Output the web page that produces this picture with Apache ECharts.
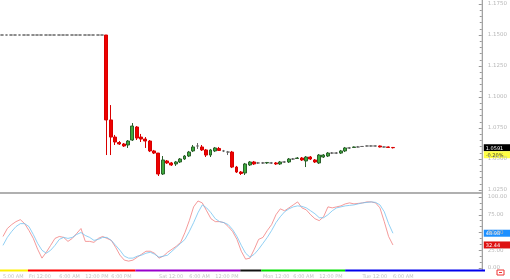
<!DOCTYPE html>
<html><head><meta charset="utf-8">
<script src="https://cdn.jsdelivr.net/npm/echarts@6/dist/echarts.min.js"></script>
<style>html,body{margin:0;padding:0;background:#fff}#c{width:510px;height:279px}</style>
</head><body><div id="c"></div>
<script>
// ---- data ----
const slotCount = 111;
const tickIndex = [0, 6, 13, 19, 25, 36, 43, 49, 60, 67, 73, 83, 90];
const tickText = ['5:00 AM', 'Fri 12:00', '6:00 AM', '12:00 PM', '6:00 PM', 'Sat 12:00', '6:00 AM', '12:00 PM', 'Mon 12:00', '6:00 AM', '12:00 PM', 'Tue 12:00', '6:00 AM'];
const categories = Array.from({length: slotCount}, (_, i) => 'P' + i);

// open, close, low, high
const opens  = [1.15,1.15,1.15,1.15,1.15,1.15,1.15,1.15,1.15,1.15,1.15,1.15,1.15,1.15,1.15,1.15,1.15,1.15,1.15,1.15,1.15,1.15,1.15,1.15,
 1.1500,1.0815,1.0677,1.0633,1.0621,1.0613,1.0653,1.0758,1.0677,1.0661,1.0645,1.0565,1.0548,1.0379,1.0484,1.0468,1.0460,1.0476,1.0500,1.0524,1.0565,
 1.0605,1.0597,1.0573,1.0532,1.0565,1.0585,1.0565,1.0556,1.0556,1.0435,1.0395,1.0387,1.0452,1.0476,1.0468,1.0468,1.0468,1.0468,1.0468,1.0460,1.0476,
 1.0476,1.0500,1.0504,1.0508,1.0484,1.0516,1.0492,1.0468,1.0516,1.0524,1.0548,1.0548,1.0548,1.0565,1.0589,1.0593,1.0597,1.0601,1.0605,1.0605,1.0605,
 1.0605,1.0597,1.0597,1.0593];
const closes = [1.15,1.15,1.15,1.15,1.15,1.15,1.15,1.15,1.15,1.15,1.15,1.15,1.15,1.15,1.15,1.15,1.15,1.15,1.15,1.15,1.15,1.15,1.15,1.15,
 1.0815,1.0677,1.0637,1.0621,1.0605,1.0645,1.0766,1.0669,1.0661,1.0645,1.0565,1.0548,1.0379,1.0492,1.0468,1.0452,1.0476,1.0500,1.0524,1.0556,1.0597,
 1.0605,1.0573,1.0532,1.0573,1.0589,1.0569,1.0565,1.0556,1.0435,1.0395,1.0383,1.0460,1.0476,1.0460,1.0468,1.0468,1.0472,1.0468,1.0460,1.0476,1.0476,
 1.0500,1.0500,1.0508,1.0492,1.0516,1.0500,1.0476,1.0532,1.0532,1.0548,1.0548,1.0548,1.0565,1.0589,1.0589,1.0597,1.0597,1.0601,1.0605,1.0605,1.0605,
 1.0597,1.0597,1.0593,1.0591];
const lows   = [1.15,1.15,1.15,1.15,1.15,1.15,1.15,1.15,1.15,1.15,1.15,1.15,1.15,1.15,1.15,1.15,1.15,1.15,1.15,1.15,1.15,1.15,1.15,1.15,
 1.0532,1.0532,1.0613,1.0613,1.0597,1.0589,1.0645,1.0653,1.0637,1.0589,1.0556,1.0540,1.0363,1.0371,1.0460,1.0444,1.0444,1.0468,1.0492,1.0516,1.0556,
 1.0581,1.0565,1.0516,1.0516,1.0556,1.0565,1.0556,1.0532,1.0427,1.0387,1.0371,1.0371,1.0444,1.0452,1.0460,1.0460,1.0460,1.0460,1.0452,1.0452,1.0468,
 1.0468,1.0492,1.0500,1.0484,1.0435,1.0492,1.0468,1.0460,1.0508,1.0516,1.0540,1.0540,1.0540,1.0556,1.0581,1.0589,1.0593,1.0597,1.0601,1.0601,1.0601,
 1.0593,1.0593,1.0589,1.0585];
const highs  = [1.15,1.15,1.15,1.15,1.15,1.15,1.15,1.15,1.15,1.15,1.15,1.15,1.15,1.15,1.15,1.15,1.15,1.15,1.15,1.15,1.15,1.15,1.15,1.15,
 1.1500,1.0935,1.0694,1.0645,1.0629,1.0653,1.0790,1.0766,1.0702,1.0677,1.0653,1.0573,1.0548,1.0524,1.0492,1.0476,1.0484,1.0508,1.0532,1.0565,1.0613,
 1.0629,1.0613,1.0581,1.0581,1.0597,1.0597,1.0573,1.0565,1.0565,1.0444,1.0403,1.0468,1.0484,1.0484,1.0476,1.0476,1.0476,1.0476,1.0476,1.0484,1.0484,
 1.0508,1.0508,1.0516,1.0516,1.0524,1.0524,1.0500,1.0540,1.0540,1.0556,1.0556,1.0556,1.0573,1.0597,1.0597,1.0601,1.0605,1.0605,1.0609,1.0609,1.0609,
 1.0609,1.0601,1.0601,1.0597];

// stochastic %K and %D
const stochK = [44.4,55.6,61.1,65.3,68.1,62.5,52.8,41.7,26.4,13.9,22.2,31.9,41.7,44.4,43.1,37.5,41.7,48.6,55.6,37.5,37.5,36.1,41.7,44.4,41.7,38.9,
 29.2,18.1,11.1,9.7,11.1,15.3,19.4,23.6,23.6,20.8,13.9,16.7,22.2,26.4,30.6,36.1,50.0,66.7,86.1,94.4,91.7,80.6,69.4,65.3,65.3,63.9,58.3,51.4,40.3,
 23.6,12.5,13.9,26.4,40.3,43.1,52.8,61.1,75.0,83.3,80.6,84.7,88.9,93.1,84.7,81.9,75.0,69.4,66.7,72.2,86.1,84.7,86.1,87.5,90.3,91.7,90.3,91.0,91.7,
 93.1,93.1,91.7,84.7,65.3,44.4,32.44];
const stochD = [31.9,43.1,51.4,58.3,62.5,62.5,58.3,47.2,34.7,25.0,20.8,25.0,31.9,40.3,43.1,41.7,43.1,47.2,50.0,45.8,43.1,38.9,40.3,43.1,43.1,38.9,
 31.9,25.0,16.7,13.9,13.9,16.7,18.1,20.8,22.2,19.4,15.3,16.7,18.1,23.6,29.2,34.7,40.3,51.4,63.9,77.8,88.9,84.7,77.8,69.4,65.3,63.9,61.1,54.2,44.4,
 31.9,20.8,15.3,19.4,26.4,34.7,43.1,52.8,63.9,72.2,79.2,83.3,86.1,87.5,86.8,84.7,80.6,76.4,70.8,70.8,75.0,80.6,84.7,86.1,87.5,88.2,88.9,90.3,91.7,
 92.4,93.1,92.4,88.9,79.2,62.5,48.98];
const changeText = '-0.20%';

// session colour bar: start slot, end slot, colour
const sessionStart = [0, 6.4, 31, 55, 59.8, 79];
const sessionEnd   = [6.4, 31, 55, 59.8, 79, 111];
const sessionColor = ['#ffee00', '#ff0000', '#9900cc', '#111111', '#00dd00', '#0000ee'];

// ---- chart ----
const ohlc = opens.map((o, i) => [o, closes[i], lows[i], highs[i]]);
const chart = echarts.init(document.getElementById('c'), null, {renderer: 'canvas'});
const FONT = 'DejaVu Sans';
const labelSet = new Set(tickIndex);

chart.setOption({
  animation: false,
  backgroundColor: '#fff',
  grid: [
    {left: 0, top: 4, width: 485, height: 186},
    {left: 0, top: 197, width: 485, height: 72}
  ],
  xAxis: [
    {type: 'category', gridIndex: 0, data: categories, boundaryGap: true,
     axisLine: {show: false}, axisTick: {show: false}, axisLabel: {show: false}, splitLine: {show: false}},
    {type: 'category', gridIndex: 1, data: categories, boundaryGap: true,
     axisLine: {show: false}, axisTick: {show: false}, splitLine: {show: false},
     axisLabel: {show: true, interval: (i) => labelSet.has(i), margin: 6, fontSize: 5, color: '#c4c4c4', fontFamily: FONT, align: 'left',
       formatter: (v, i) => tickText[tickIndex.indexOf(i)] || ''}}
  ],
  yAxis: [
    {type: 'value', gridIndex: 0, position: 'right', min: 1.025, max: 1.175, interval: 0.025,
     axisLine: {show: false}, splitLine: {show: false},
     axisTick: {show: true, inside: true, length: 3, lineStyle: {color: '#999'}},
     minorTick: {show: true, splitNumber: 5, length: 2, lineStyle: {color: '#999'}},
     axisLabel: {formatter: (v) => v.toFixed(4), fontSize: 5.5, color: '#b8b8b8', margin: 6, fontFamily: FONT}},
    {type: 'value', gridIndex: 1, position: 'right', min: 0, max: 100, interval: 25,
     axisLine: {show: false}, splitLine: {show: false},
     axisTick: {show: true, inside: true, length: 3, lineStyle: {color: '#999'}},
     minorTick: {show: true, splitNumber: 3, length: 2, lineStyle: {color: '#999'}},
     axisLabel: {formatter: (v) => v.toFixed(2), fontSize: 5.5, color: '#b8b8b8', margin: 6, fontFamily: FONT}}
  ],
  series: [
    {type: 'candlestick', xAxisIndex: 0, yAxisIndex: 0, data: ohlc, barWidth: 3.4,
     itemStyle: {color: '#3dab3d', borderColor: '#2b602b', color0: '#ee0000', borderColor0: '#d80000',
       borderColorDoji: '#666', borderWidth: 1}},
    {type: 'line', xAxisIndex: 1, yAxisIndex: 1, data: stochK, symbol: 'none',
     lineStyle: {color: '#f07878', width: 1, opacity: 0.75}},
    {type: 'line', xAxisIndex: 1, yAxisIndex: 1, data: stochD, symbol: 'none',
     lineStyle: {color: '#6cc0f0', width: 1, opacity: 0.75}}
  ]
});

// decorations computed through the chart's own scales
const slotW = 485 / slotCount;
const axisX = chart.convertToPixel({xAxisIndex: 0}, categories[slotCount - 1]) + slotW / 2;
const lastClose = closes[closes.length - 1];
const yPrice = chart.convertToPixel({yAxisIndex: 0}, lastClose);
const yK = chart.convertToPixel({yAxisIndex: 1}, stochK[stochK.length - 1]);
const yD = chart.convertToPixel({yAxisIndex: 1}, stochD[stochD.length - 1]);
const yBottom = chart.convertToPixel({yAxisIndex: 1}, 0);
const g = [];
// separator between panes
g.push({type: 'rect', shape: {x: 0, y: 192, width: axisX, height: 2}, style: {fill: '#b0b0b0'}});
// axis line
g.push({type: 'line', shape: {x1: axisX + 0.5, y1: 0, x2: axisX + 0.5, y2: yBottom + 3}, style: {stroke: '#888', lineWidth: 1}});
// session bar
sessionStart.forEach((s, i) => {
  g.push({type: 'rect', shape: {x: s * slotW, y: yBottom + 1.5, width: (sessionEnd[i] - s) * slotW, height: 2},
    style: {fill: sessionColor[i]}});
});
function tag(y, text, bg, fg) {
  g.push({type: 'rect', shape: {x: axisX + 2, y: y - 3.5, width: 510 - axisX - 2, height: 7}, style: {fill: bg}});
  g.push({type: 'text', x: axisX + 4, y: y + 0.5, style: {text: text, fill: fg, font: '5px ' + FONT, verticalAlign: 'middle', align: 'left'}});
}
tag(yPrice, lastClose.toFixed(4), '#000', '#fff');
tag(yPrice + 7, changeText, '#ffff44', '#333');
tag(yD, stochD[stochD.length - 1].toFixed(2), '#1e90ff', '#fff');
tag(yK, stochK[stochK.length - 1].toFixed(2), '#dd1111', '#fff');
// small icon bottom right
g.push({type: 'rect', shape: {x: 497, y: yBottom + 2, width: 7, height: 5}, style: {fill: '#fff', stroke: '#e33', lineWidth: 1}});
g.push({type: 'rect', shape: {x: 499, y: yBottom + 4, width: 3, height: 1}, style: {fill: '#e33'}});
chart.setOption({graphic: g});
</script></body></html>
